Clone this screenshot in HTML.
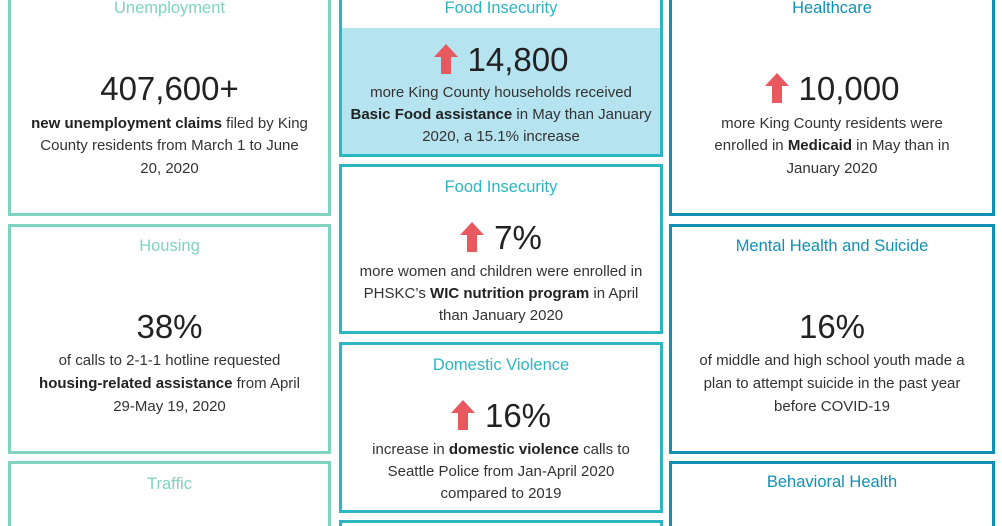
<!DOCTYPE html>
<html><head><meta charset="utf-8"><style>
html,body{margin:0;width:1002px;height:526px;overflow:hidden}
body{background:#fff;font-family:"Liberation Sans",sans-serif}
#wrap{position:relative;width:1002px;height:526px;overflow:hidden}
.card{position:absolute;box-sizing:border-box;border:3px solid}
.open{border-bottom:none}
.l{position:absolute;text-align:center;white-space:nowrap;line-height:22px;height:22px;font-size:15px;color:#333}
.t{font-size:16.5px}
.n{font-size:33px;line-height:40px;height:40px;color:#222}
b{font-weight:bold;color:#222}
svg{vertical-align:-3px;margin-right:10px}
</style></head><body>
<div id="wrap">
<div class="card" style="left:8px;top:-10px;width:323px;height:226px;border-color:#7fd3bf"></div>
<div class="card" style="left:8px;top:224px;width:323px;height:230px;border-color:#7fd3bf"></div>
<div class="card open" style="left:8px;top:461px;width:323px;height:65px;border-color:#7fd3bf"></div>
<div class="card" style="left:339px;top:-10px;width:324px;height:167px;border-color:#2bb6c2"></div>
<div style="position:absolute;left:342px;top:28px;width:318px;height:126px;background:#b5e3ef"></div>
<div class="card" style="left:339px;top:164px;width:324px;height:170px;border-color:#2bb6c2"></div>
<div class="card" style="left:339px;top:342px;width:324px;height:171px;border-color:#2bb6c2"></div>
<div class="card open" style="left:339px;top:520px;width:324px;height:6px;border-color:#2bb6c2"></div>
<div class="card" style="left:669px;top:-10px;width:326px;height:226px;border-color:#1190b6"></div>
<div class="card" style="left:669px;top:224px;width:326px;height:230px;border-color:#1190b6"></div>
<div class="card open" style="left:669px;top:461px;width:326px;height:65px;border-color:#1190b6"></div>
<div id="txt"></div>
</div>
<script>
const arrow='<svg width="24" height="30" viewBox="0 0 24 30"><polygon points="12,0 24,13 17,13 17,30 7,30 7,13 0,13" fill="#e8595f"/></svg>';
const cols=[[8,331],[339,663],[669,995]];
const items=[
[0,8,'t','Unemployment','#7fd3bf'],[0,89,'n','407,600+'],
[0,124,'','<b>new unemployment claims</b> filed by King'],[0,146,'','County residents from March 1 to June'],[0,169,'','20, 2020'],
[0,246,'t','Housing','#7fd3bf'],[0,327,'n','38%'],
[0,361,'','of calls to 2-1-1 hotline requested'],[0,384,'','<b>housing-related assistance</b> from April'],[0,407,'','29-May 19, 2020'],
[0,484,'t','Traffic','#7fd3bf'],
[1,8,'t','Food Insecurity','#2bb6c2'],[1,60,'n',arrow+'14,800'],
[1,93,'','more King County households received'],[1,115,'','<b>Basic Food assistance</b> in May than January'],[1,137,'','2020, a 15.1% increase'],
[1,187,'t','Food Insecurity','#2bb6c2'],[1,238,'n',arrow+'7%'],
[1,272,'','more women and children were enrolled in'],[1,294,'','PHSKC’s <b>WIC nutrition program</b> in April'],[1,316,'','than January 2020'],
[1,365,'t','Domestic Violence','#2bb6c2'],[1,416,'n',arrow+'16%'],
[1,450,'','increase in <b>domestic violence</b> calls to'],[1,472,'','Seattle Police from Jan-April 2020'],[1,494,'','compared to 2019'],
[2,8,'t','Healthcare','#1190b6'],[2,89,'n',arrow+'10,000'],
[2,124,'','more King County residents were'],[2,146,'','enrolled in <b>Medicaid</b> in May than in'],[2,169,'','January 2020'],
[2,246,'t','Mental Health and Suicide','#1190b6'],[2,327,'n','16%'],
[2,361,'','of middle and high school youth made a'],[2,384,'','plan to attempt suicide in the past year'],[2,407,'','before COVID-19'],
[2,482,'t','Behavioral Health','#1190b6']];
const box=document.getElementById('txt');
items.forEach(function(it){
 const d=document.createElement('div');
 const c=cols[it[0]];
 d.className='l '+it[2];
 const h=it[2]==='n'?40:22;
 d.style.left=c[0]+'px';d.style.width=(c[1]-c[0])+'px';d.style.top=(it[1]-h/2)+'px';
 if(it[4])d.style.color=it[4];
 d.innerHTML=it[3];
 
 
 box.appendChild(d);
});
</script>
</body></html>
